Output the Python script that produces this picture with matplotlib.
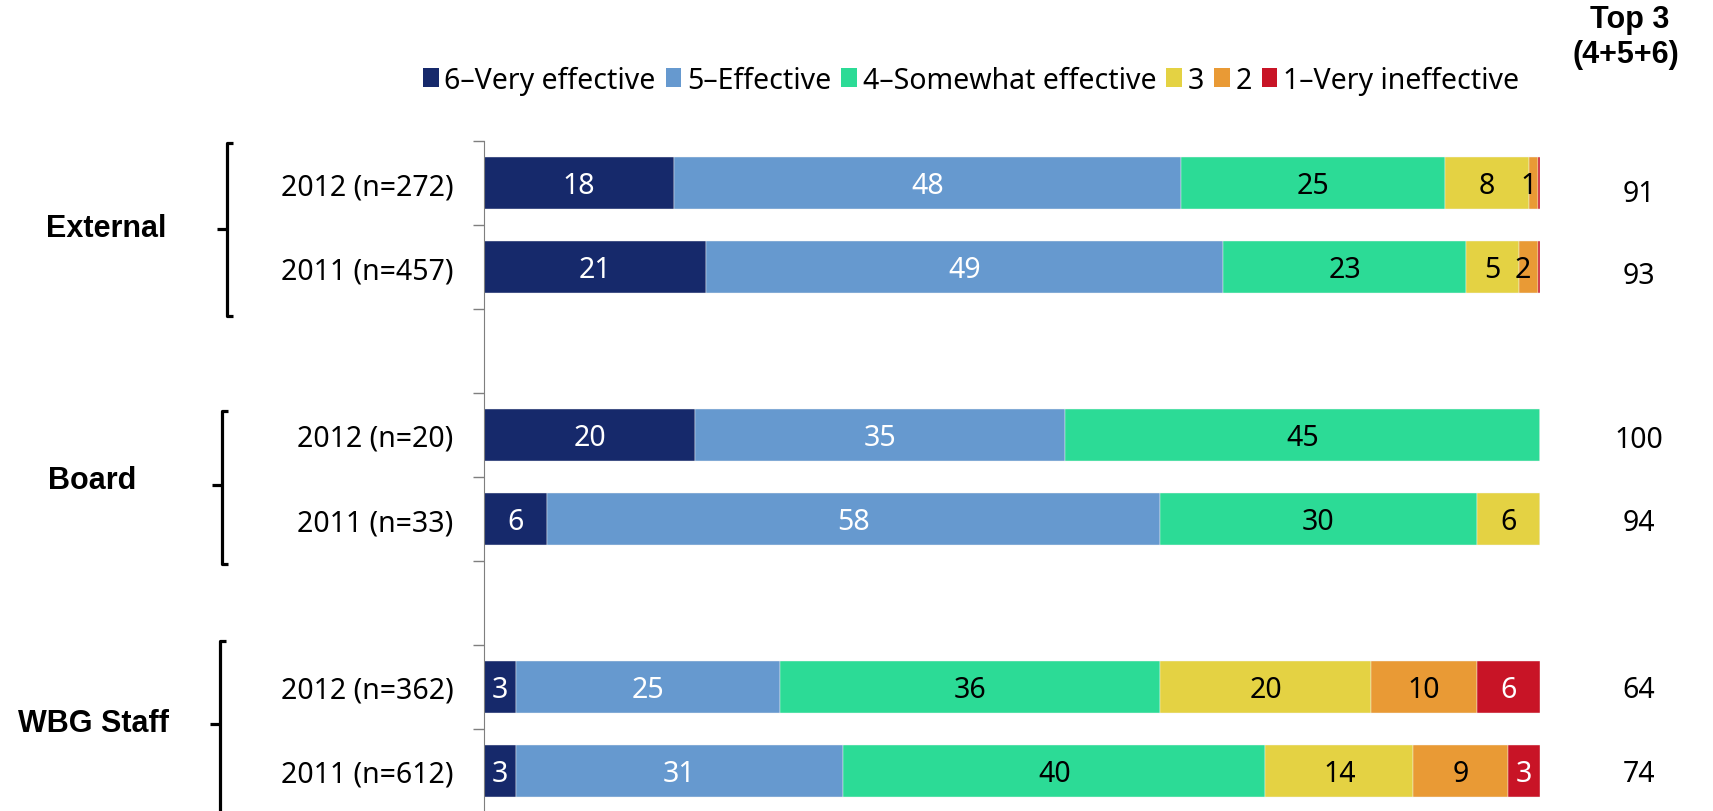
import numpy as np
import matplotlib.pyplot as plt
from matplotlib.patches import Patch
from matplotlib.transforms import blended_transform_factory

# --- données ---
row_labels = ["2012 (n=272)", "2011 (n=457)", "2012 (n=20)", "2011 (n=33)",
              "2012 (n=362)", "2011 (n=612)"]
row_pos = [0, 1, 3, 4, 6, 7]
groups = ["External", "Board", "WBG Staff"]

series_names = ["6\u2013Very effective", "5\u2013Effective", "4\u2013Somewhat effective",
                "3", "2", "1\u2013Very ineffective"]
very_eff = [18, 21, 20, 6, 3, 3]
eff = [48, 49, 35, 58, 25, 31]
somewhat = [25, 23, 45, 30, 36, 40]
three = [8, 5, 0, 6, 20, 14]
two = [0.8, 1.8, 0, 0, 10, 9]
very_ineff = [0.2, 0.2, 0, 0, 6, 3]
top3 = [91, 93, 100, 94, 64, 74]

colors = ["#16296b", "#6699cf", "#2cdb96", "#e4d243", "#e99a35", "#c81426"]
txt_colors = ["white", "white", "black", "black", "black", "white"]

REG = "Noto Sans"
BOLD = "Liberation Sans"

W, H = 1713, 812
fig = plt.figure(figsize=(W / 100, H / 100), dpi=100)
ax = fig.add_axes([484 / W, 1 - 814 / H, 1056 / W, 672 / H])

data = [very_eff, eff, somewhat, three, two, very_ineff]
left = np.zeros(len(row_pos))
for vals, col, tc in zip(data, colors, txt_colors):
    vals = np.array(vals, dtype=float)
    ax.barh(row_pos, vals, left=left, height=0.62, color=col,
            edgecolor="#f4f4f4", linewidth=0.3)
    for y, v, l in zip(row_pos, vals, left):
        if v >= 0.5:
            x = l + v / 2 - (0.5 if v < 2.5 else 0)
            ax.text(x, y + 0.03, f"{round(v):d}", ha="center", va="center",
                    color=tc, fontsize=20.5, family=REG)
    left += vals

ax.set_xlim(0, 100)
ax.set_ylim(7.5, -0.5)
ax.set_xticks([])
for s in ["top", "right", "bottom"]:
    ax.spines[s].set_visible(False)
ax.spines["left"].set_color("#7f7f7f")

ax.set_yticks(row_pos)
ax.set_yticklabels(row_labels, fontsize=20.5, family=REG)
ax.tick_params(axis="y", which="major", length=0, pad=22)
ax.set_yticks(np.arange(-0.5, 8, 1), minor=True)
ax.tick_params(axis="y", which="minor", length=8, width=1, color="#7f7f7f",
               direction="out")

# accolades des groupes (décalages)
tr = blended_transform_factory(fig.transFigure, ax.transData)
bracket_x = [227, 222, 220]
label_x = [106, 92, 93]
top_off = [-0.48, -0.29, -0.55]
bot_off = [0.58, 0.54, 0.6]
nub_off = [0.55, 0.6, 0.44]
lab_off = [0.54, 0.54, 0.43]
for g, name in enumerate(groups):
    r0, r1 = row_pos[2 * g], row_pos[2 * g + 1]
    y0, y1 = r0 + top_off[g], r1 + bot_off[g]
    ym = r0 + nub_off[g]
    x = bracket_x[g] / W
    s = 6 / W
    ax.plot([x + s, x, x, x + s], [y0, y0, y1, y1], color="black", lw=2.3,
            transform=tr, clip_on=False, solid_capstyle="butt")
    ax.plot([x - 10 / W, x], [ym, ym], color="black", lw=2.3,
            transform=tr, clip_on=False, solid_capstyle="butt")
    ax.text(label_x[g] / W, r0 + lab_off[g], name, transform=tr, ha="center",
            va="center", fontsize=22, fontweight="bold", family=BOLD)

# colonne Top 3
top_dy = [0.12, 0.1, 0.05, 0.04, 0.03, 0.03]
for y, v, dy in zip(row_pos, top3, top_dy):
    ax.text(1639 / W, y + dy, str(v), transform=tr, ha="center", va="center",
            fontsize=20.5, family=REG)
fig.text(1630 / W, 1 - 20 / H, "Top 3", ha="center", va="center",
         fontsize=22, fontweight="bold", family=BOLD)
fig.text(1626 / W, 1 - 55 / H, "(4+5+6)", ha="center", va="center",
         fontsize=22, fontweight="bold", family=BOLD)

handles = [Patch(facecolor=c, edgecolor="none") for c in colors]
fig.legend(handles, series_names, loc="center left",
           bbox_to_anchor=(423 / W, 1 - 81 / H), ncol=6, frameon=False,
           handlelength=0.55, handleheight=0.6, handletextpad=0.2,
           columnspacing=0.35, borderpad=0, borderaxespad=0,
           prop={"family": REG, "size": 20.5})

fig.savefig("out.png", dpi=100)
